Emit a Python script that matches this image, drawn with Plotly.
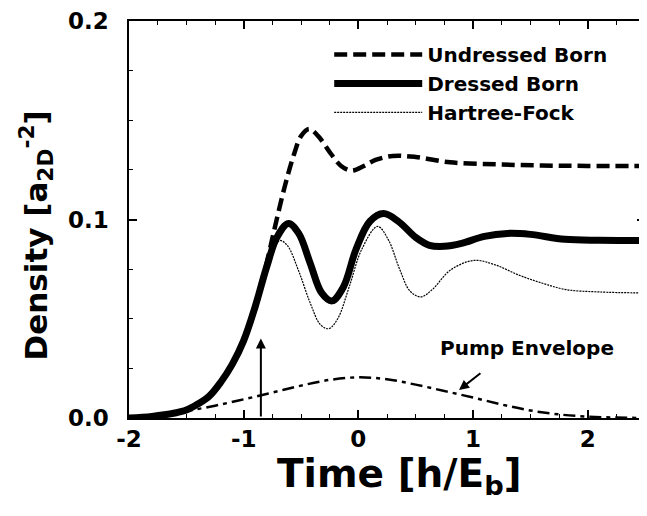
import plotly.graph_objects as go

# ---- data ----
t_rise = [-2.0, -1.8, -1.6, -1.5, -1.4, -1.3, -1.2, -1.1, -1.0, -0.9]
n_rise = [0.0, 0.0008, 0.0025, 0.004, 0.007, 0.011, 0.018, 0.027, 0.039, 0.056]

t_dressed = t_rise + [-0.8, -0.71, -0.61, -0.52, -0.42, -0.32, -0.23, -0.13, -0.02, 0.1,
                      0.22, 0.35, 0.5, 0.62, 0.75, 0.9, 1.1, 1.3, 1.5, 1.8, 2.1, 2.5]
n_dressed = n_rise + [0.076, 0.091, 0.098, 0.093, 0.078, 0.063, 0.059, 0.066, 0.085, 0.099,
                      0.103, 0.099, 0.091, 0.087, 0.0865, 0.088, 0.0915, 0.093, 0.0925, 0.090, 0.0895, 0.0895]

t_undressed = t_rise + [-0.8, -0.72, -0.64, -0.56, -0.5, -0.43, -0.35, -0.25, -0.15, -0.06,
                        0.05, 0.15, 0.3, 0.5, 0.8, 1.2, 1.6, 2.0, 2.5]
n_undressed = n_rise + [0.078, 0.098, 0.117, 0.133, 0.142, 0.1456, 0.142, 0.134, 0.127, 0.1246,
                        0.127, 0.130, 0.132, 0.1315, 0.1288, 0.1278, 0.1272, 0.127, 0.127]

t_hf = t_rise + [-0.8, -0.75, -0.687, -0.62, -0.52, -0.42, -0.33, -0.258, -0.18, -0.08,
                 0.03, 0.168, 0.26, 0.36, 0.45, 0.545, 0.65, 0.8, 1.009, 1.2, 1.4, 1.6, 1.81, 2.1, 2.5]
n_hf = n_rise + [0.075, 0.083, 0.0894, 0.087, 0.074, 0.058, 0.047, 0.045, 0.050, 0.066,
                 0.085, 0.0965, 0.090, 0.075, 0.064, 0.061, 0.065, 0.0744, 0.0794, 0.077, 0.072, 0.068, 0.0647, 0.0635, 0.063]

t_pump = [-2.0, -1.75, -1.5, -1.25, -1.0, -0.75, -0.5, -0.25, 0.0, 0.25, 0.5, 0.75, 1.0,
          1.25, 1.5, 1.75, 2.0, 2.25, 2.5]
n_pump = [0.0005, 0.0015, 0.0035, 0.0062, 0.0094, 0.0128, 0.0163, 0.0192, 0.0205, 0.0195,
          0.0168, 0.0136, 0.0103, 0.0068, 0.0038, 0.0018, 0.0007, 0.0002, 0.0]

pump_time = -0.85      # arrow marking the pump
pump_arrow_top = 0.040

x_ticks = [-2, -1, 0, 1, 2]
y_ticks = [0.0, 0.1, 0.2]

FONT = "DejaVu Sans"

fig = go.Figure()
fig.add_trace(go.Scatter(x=t_pump, y=n_pump, mode="lines", showlegend=False,
                         line=dict(color="black", width=2.5, dash="12px,5px,4px,5px", shape="spline")))
fig.add_trace(go.Scatter(x=t_hf, y=n_hf, mode="lines", name="Hartree-Fock", legendrank=3,
                         line=dict(color="black", width=1.2, dash="2px,1px", shape="spline")))
fig.add_trace(go.Scatter(x=t_undressed, y=n_undressed, mode="lines", name="Undressed Born", legendrank=1,
                         line=dict(color="black", width=4.5, dash="13px,6px", shape="spline")))
fig.add_trace(go.Scatter(x=t_dressed, y=n_dressed, mode="lines", name="Dressed Born", legendrank=2,
                         line=dict(color="black", width=7, shape="spline")))

# pump arrow
fig.add_annotation(x=pump_time, y=pump_arrow_top, ax=pump_time, ay=0, axref="x", ayref="y",
                   xref="x", yref="y", text="", showarrow=True, arrowhead=2, arrowsize=1,
                   arrowwidth=2, arrowcolor="black")
# pump envelope label + pointer
fig.add_annotation(x=1.47, y=0.0352, xref="x", yref="y", text="Pump Envelope", showarrow=False,
                   font=dict(family=FONT, size=20, color="black", weight="bold"))
fig.add_annotation(x=0.878, y=0.0141, ax=1.078, ay=0.0231, axref="x", ayref="y",
                   xref="x", yref="y", text="", showarrow=True, arrowhead=2, arrowsize=1,
                   arrowwidth=2, arrowcolor="black")

# axis titles
fig.add_annotation(x=0.525, y=-0.145, xref="paper", yref="paper", showarrow=False,
                   text="Time [h/E<sub>b</sub>]", xanchor="center", yanchor="middle",
                   font=dict(family=FONT, size=39, color="black", weight="bold"))
fig.add_annotation(x=-0.18, y=0.46, xref="paper", yref="paper", showarrow=False, textangle=-90,
                   text="Density [a<sub>2D</sub><sup>-2</sup>]", xanchor="center", yanchor="middle",
                   font=dict(family=FONT, size=31, color="black", weight="bold"))

axis_common = dict(showline=True, linecolor="black", linewidth=1.5, mirror="ticks",
                   ticks="inside", ticklen=8, tickwidth=1.5, tickcolor="black",
                   showgrid=False, zeroline=False, ticklabeloverflow="allow",
                   tickfont=dict(family=FONT, size=23, color="black", weight="bold"))

fig.update_xaxes(range=[-2, 2.5], tickvals=x_ticks, ticktext=[str(v) for v in x_ticks],
                 minor=dict(dtick=0.25, ticks="inside", ticklen=4, tickcolor="black", tickwidth=1.2),
                 **axis_common)
fig.update_yaxes(range=[0, 0.2], tickvals=y_ticks, ticktext=[f"{v:.1f}" for v in y_ticks],
                 minor=dict(dtick=0.025, ticks="inside", ticklen=4, tickcolor="black", tickwidth=1.2),
                 ticklabelstandoff=14,
                 **axis_common)

# the page adds an 8px body margin; the figure is sized so the plot box lands where the reference has it
fig.update_layout(
    width=639, height=508,
    margin=dict(l=121, r=0, t=12, b=98),
    plot_bgcolor="white", paper_bgcolor="white",
    font=dict(family=FONT, color="black", weight="bold"),
    legend=dict(x=0.388, y=0.965, xanchor="left", yanchor="top", bgcolor="rgba(0,0,0,0)",
                itemwidth=88, font=dict(family=FONT, size=20, color="black", weight="bold"),
                tracegroupgap=0),
)

fig.write_html("out.html")
